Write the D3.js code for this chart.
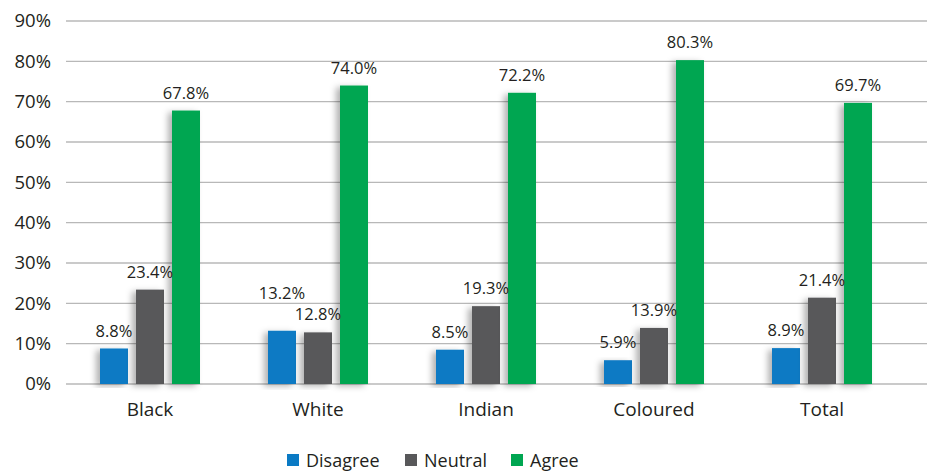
<!DOCTYPE html>
<html>
<head>
<meta charset="utf-8">
<script src="https://cdn.jsdelivr.net/npm/d3@7"></script>
<style>
  body { margin: 0; background: #fff; }
  text { font-family: "Open Sans", sans-serif; fill: #231f20; }
</style>
</head>
<body>
<div id="chart"></div>
<script>
// chart data
const aCategory = ["Black", "White", "Indian", "Coloured", "Total"];
const aSeries = ["Disagree", "Neutral", "Agree"];
const aDisagree = [8.8, 13.2, 8.5, 5.9, 8.9];
const aNeutral = [23.4, 12.8, 19.3, 13.9, 21.4];
const aAgree = [67.8, 74.0, 72.2, 80.3, 69.7];
const aTick = [0, 10, 20, 30, 40, 50, 60, 70, 80, 90];
const aColor = ["#0a7ac4", "#58585a", "#00a651"];

const iWidth = 927, iHeight = 472;
const oMargin = { top: 21, right: 21, bottom: 88, left: 66 };

const d3Svg = d3.select("#chart").append("svg")
    .attr("width", iWidth)
    .attr("height", iHeight);

// soft shadow to the left of each bar
const d3Filter = d3Svg.append("defs").append("filter")
    .attr("id", "shadow")
    .attr("x", "-60%").attr("y", "-10%")
    .attr("width", "180%").attr("height", "120%");
d3Filter.append("feDropShadow")
    .attr("dx", -4).attr("dy", 2)
    .attr("stdDeviation", 3)
    .attr("flood-color", "#000")
    .attr("flood-opacity", 0.3);

const d3X = d3.scaleBand().domain(aCategory)
    .range([oMargin.left, oMargin.left + 168 * aCategory.length]);
const d3XSub = d3.scaleBand().domain(aSeries)
    .range([34, 134]).paddingInner(0.08 / 0.36 * 1.0);
const d3Y = d3.scaleLinear().domain([0, 90])
    .range([iHeight - oMargin.bottom, oMargin.top]);

// gridlines
d3Svg.append("g").selectAll("line").data(aTick).enter().append("line")
    .attr("x1", oMargin.left).attr("x2", iWidth)
    .attr("y1", d => d3Y(d)).attr("y2", d => d3Y(d))
    .attr("stroke", "#b8b8b8").attr("stroke-width", 1.3);

// y axis labels
const d3YAxis = d3Svg.append("g")
    .attr("transform", `translate(${oMargin.left - 15},0)`)
    .call(d3.axisLeft(d3Y).tickValues(aTick).tickFormat(d => d + "%").tickSize(0).tickPadding(0));
d3YAxis.select(".domain").remove();
d3YAxis.selectAll("text").attr("font-size", "18.5px").attr("font-family", "Open Sans, sans-serif").attr("fill", "#231f20");

// x axis labels
const d3XAxis = d3Svg.append("g")
    .attr("transform", `translate(0,${d3Y(0) + 18})`)
    .call(d3.axisBottom(d3X).tickSize(0).tickPadding(0));
d3XAxis.select(".domain").remove();
d3XAxis.selectAll("text").attr("font-size", "19px").attr("font-family", "Open Sans, sans-serif").attr("fill", "#231f20");

const aRows = aCategory.map((c, i) => ({
    cat: c,
    vals: [aDisagree[i], aNeutral[i], aAgree[i]]
}));
// extra lift for labels that would collide
const aNudge = { "White|Disagree": -20 };

const d3Group = d3Svg.append("g").selectAll("g").data(aRows).enter().append("g")
    .attr("transform", d => `translate(${d3X(d.cat)},0)`);

d3Group.selectAll("rect")
    .data(d => d.vals.map((v, j) => ({ cat: d.cat, s: aSeries[j], v: v, j: j })))
    .enter().append("rect")
    .attr("x", d => d3XSub(d.s))
    .attr("width", d3XSub.bandwidth())
    .attr("y", d => d3Y(d.v))
    .attr("height", d => d3Y(0) - d3Y(d.v))
    .attr("fill", d => aColor[d.j])
    .attr("filter", "url(#shadow)");

d3Group.selectAll("text.val")
    .data(d => d.vals.map((v, j) => ({ cat: d.cat, s: aSeries[j], v: v, j: j })))
    .enter().append("text")
    .attr("class", "val")
    .attr("x", d => d3XSub(d.s) + d3XSub.bandwidth() / 2)
    .attr("y", d => d3Y(d.v) - 12 + (aNudge[d.cat + "|" + d.s] || 0))
    .attr("text-anchor", "middle")
    .attr("font-size", "16.5px")
    .text(d => d.v.toFixed(1) + "%");

// legend
const aLegendX = [287, 405, 511];
const d3Legend = d3Svg.append("g").selectAll("g").data(aSeries).enter().append("g")
    .attr("transform", (d, i) => `translate(${aLegendX[i]},454)`);
d3Legend.append("rect").attr("width", 12).attr("height", 12)
    .attr("fill", (d, i) => aColor[i]);
d3Legend.append("text").attr("x", 19).attr("y", 12.5)
    .attr("font-size", "18px").text(d => d);
</script>
</body>
</html>
